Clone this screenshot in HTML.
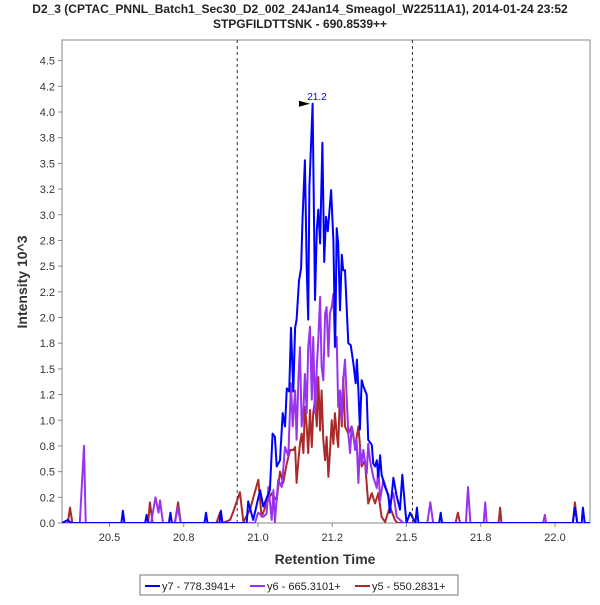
<!DOCTYPE html>
<html><head><meta charset="utf-8"><style>
body{margin:0;background:#fff;font-family:"Liberation Sans",sans-serif}
svg text{font-family:"Liberation Sans",sans-serif}
</style></head><body>
<svg id="chart" width="600" height="600" xmlns="http://www.w3.org/2000/svg">
<rect width="600" height="600" fill="#fff"/>
<text x="300" y="13" text-anchor="middle" font-size="12" font-weight="bold" fill="#222">D2_3 (CPTAC_PNNL_Batch1_Sec30_D2_002_24Jan14_Smeagol_W22511A1), 2014-01-24 23:52</text>
<text x="300" y="28" text-anchor="middle" font-size="12" font-weight="bold" fill="#222">STPGFILDTTSNK - 690.8539++</text>
<rect x="62" y="40" width="528" height="483" fill="#fff" stroke="#888"/>
<g id="yticks"></g><g id="xticks"></g>
<g id="series" clip-path="url(#clip)"></g>
<defs><clipPath id="clip"><rect x="62" y="40" width="528" height="483"/></clipPath></defs>
<text transform="translate(27,282) rotate(-90)" text-anchor="middle" font-size="14" font-weight="bold" fill="#333">Intensity 10^3</text>
<text x="325" y="564" text-anchor="middle" font-size="14" font-weight="bold" fill="#333">Retention Time</text>
<g>
<rect x="140" y="575" width="318" height="20" fill="#fff" stroke="#777"/>
<line x1="145" y1="586" x2="160" y2="586" stroke="#0000ff" stroke-width="2"/>
<text x="162" y="590" font-size="11" fill="#222">y7 - 778.3941+</text>
<line x1="250" y1="586" x2="265" y2="586" stroke="#9933ee" stroke-width="2"/>
<text x="267" y="590" font-size="11" fill="#222">y6 - 665.3101+</text>
<line x1="355" y1="586" x2="370" y2="586" stroke="#aa2a2a" stroke-width="2"/>
<text x="372" y="590" font-size="11" fill="#222">y5 - 550.2831+</text>
</g>
</svg>
<script>
const yTickVals=[0,0.25,0.5,0.75,1.0,1.25,1.5,1.75,2.0,2.25,2.5,2.75,3.0,3.25,3.5,3.75,4.0,4.25,4.5];
const yTickLabels=["0.0","0.2","0.5","0.8","1.0","1.2","1.5","1.8","2.0","2.2","2.5","2.8","3.0","3.2","3.5","3.8","4.0","4.2","4.5"];
const xTickVals=[20.5,20.75,21.0,21.25,21.5,21.75,22.0];
const xTickLabels=["20.5","20.8","21.0","21.2","21.5","21.8","22.0"];
const markers=[20.93,21.52];
const peakTime=21.185, peakValue=4.08, peakLabel="21.2";
const y7T=[20.34,20.36,20.37,20.38,20.54,20.545,20.55,20.62,20.625,20.63,20.70,20.705,20.71,20.82,20.825,20.83,20.87,20.875,20.88,20.906,20.962,20.967,20.984,21.007,21.018,21.029,21.040,21.049,21.057,21.063,21.074,21.083,21.091,21.097,21.105,21.111,21.119,21.125,21.130,21.138,21.145,21.150,21.158,21.164,21.169,21.173,21.184,21.192,21.198,21.203,21.209,21.217,21.223,21.229,21.235,21.240,21.246,21.254,21.260,21.265,21.270,21.276,21.282,21.287,21.293,21.299,21.304,21.312,21.321,21.329,21.333,21.338,21.343,21.349,21.355,21.366,21.371,21.383,21.388,21.394,21.400,21.405,21.411,21.416,21.428,21.439,21.444,21.456,21.467,21.478,21.486,21.495,21.500,21.512,21.53,21.535,21.54,21.61,21.615,21.62,22.06,22.067,22.075,22.09,22.094,22.1,22.12];
const y7V=[0,0.03,0,0,0,0.12,0,0,0.08,0,0,0.1,0,0,0.1,0,0,0.12,0,0,0,0.21,0.03,0.32,0.16,0.24,0.32,0.87,0.84,0.55,0.61,1.07,0.94,1.31,1.28,1.90,1.28,1.90,1.98,2.36,2.48,2.95,3.53,2.49,1.98,3.27,4.08,2.17,2.85,3.05,2.72,3.70,2.54,2.98,2.84,3.02,3.24,2.75,1.72,2.87,2.72,2.07,2.61,2.46,2.46,2.07,1.75,1.73,1.56,1.36,1.59,1.29,0.91,1.39,1.33,1.25,0.81,0.76,0.58,0.55,0.61,0.45,0.66,0.47,0.35,0.27,0.10,0.44,0.26,0.13,0.47,0.16,0,0.1,0,0.15,0,0,0.1,0,0,0.15,0,0,0.15,0,0];
const y6T=[20.34,20.40,20.414,20.42,20.64,20.655,20.665,20.67,20.68,20.72,20.73,20.74,20.99,21.0,21.018,21.029,21.035,21.046,21.052,21.057,21.068,21.080,21.091,21.102,21.111,21.117,21.125,21.130,21.136,21.141,21.147,21.153,21.158,21.164,21.169,21.175,21.181,21.186,21.192,21.198,21.203,21.209,21.214,21.220,21.226,21.231,21.237,21.242,21.248,21.254,21.259,21.265,21.270,21.276,21.282,21.287,21.293,21.299,21.304,21.310,21.315,21.321,21.327,21.332,21.338,21.343,21.349,21.355,21.366,21.371,21.377,21.388,21.400,21.405,21.411,21.422,21.433,21.444,21.456,21.467,21.478,21.49,21.57,21.58,21.59,21.70,21.707,21.715,21.76,21.765,21.77,21.96,21.966,21.97,22.12];
const y6V=[0,0,0.75,0,0,0.25,0.1,0.22,0,0,0.15,0,0,0.1,0.06,0.09,0.35,0.03,0.32,0.01,0.42,0.35,0.74,0.65,1.36,0.94,1.29,0.81,1.39,1.71,0.94,1.10,1.45,1.07,1.71,1.91,1.20,1.81,1.07,1.52,1.78,2.20,1.52,1.39,2.04,2.10,1.62,2.04,2.10,2.23,1.71,1.81,1.13,1.29,1.00,1.39,1.59,1.20,0.87,0.68,0.94,0.87,0.71,0.81,0.39,0.74,0.58,0.71,0.48,0.77,0.61,0.45,0.34,0.55,0.22,0.42,0.32,0.19,0.29,0.06,0.03,0,0,0.2,0,0,0.35,0,0,0.2,0,0,0.08,0,0];
const y5T=[20.34,20.36,20.367,20.375,20.63,20.636,20.645,20.72,20.731,20.74,20.86,20.872,20.88,20.906,20.917,20.939,20.951,20.973,21.001,21.012,21.029,21.046,21.063,21.074,21.085,21.097,21.108,21.119,21.125,21.130,21.136,21.141,21.147,21.153,21.158,21.164,21.169,21.175,21.181,21.186,21.192,21.198,21.203,21.209,21.214,21.220,21.226,21.231,21.237,21.242,21.248,21.254,21.259,21.265,21.270,21.276,21.282,21.287,21.293,21.304,21.315,21.327,21.338,21.349,21.360,21.371,21.383,21.394,21.405,21.416,21.428,21.444,21.461,21.47,21.665,21.673,21.68,21.81,21.815,21.82,22.06,22.067,22.075,22.12];
const y5V=[0,0,0.15,0,0,0.2,0,0,0.2,0,0,0.1,0,0.03,0.11,0.30,0.01,0.13,0.42,0.06,0.19,0.29,0.22,0.50,0.39,0.58,0.71,0.71,0.74,0.39,0.61,0.77,0.87,0.68,1.13,0.94,0.68,1.10,0.74,1.07,1.20,0.94,1.42,0.90,1.29,0.81,0.61,0.84,0.45,0.68,1.00,0.77,1.07,0.87,0.74,1.29,0.94,1.42,0.94,0.87,0.94,0.74,0.94,0.55,0.61,0.19,0.29,0.19,0.29,0.06,0.01,0.16,0.03,0,0,0.1,0,0,0.15,0,0,0.2,0,0];

const NS="http://www.w3.org/2000/svg";
const xS=t=>258+(t-21)*297;
const yS=v=>523-v*102.75;
function mk(tag,attrs,parent){const e=document.createElementNS(NS,tag);for(const k in attrs)e.setAttribute(k,attrs[k]);parent.appendChild(e);return e;}
const svg=document.getElementById('chart');
const yg=document.getElementById('yticks');
yTickVals.forEach((v,i)=>{
  const l=mk('line',{x1:58,x2:62,y1:yS(v),y2:yS(v),stroke:'#888'},yg);
  
  
  const t=mk('text',{x:55,y:yS(v)+4,'text-anchor':'end','font-size':11,fill:'#333'},yg);
  t.textContent=yTickLabels[i];
  
  
});
const xg=document.getElementById('xticks');
xTickVals.forEach((v,i)=>{
  const l=mk('line',{x1:xS(v),x2:xS(v),y1:523,y2:527,stroke:'#888'},xg);
  
  
  const t=mk('text',{x:xS(v),y:541,'text-anchor':'middle','font-size':11,fill:'#333'},xg);
  t.textContent=xTickLabels[i];
  
  
});
markers.forEach(m=>{
  const l=mk('line',{x1:xS(m),x2:xS(m),y1:40,y2:523,stroke:'#333','stroke-dasharray':'3,3'},svg);
  
  
});
const sg=document.getElementById('series');
const series=[[y5T,y5V,'#aa2a2a','series-y5'],[y6T,y6V,'#9933ee','series-y6'],[y7T,y7V,'#0000ff','series-y7']];
series.forEach(s=>{
  const pts=s[0].map((t,i)=>xS(t).toFixed(1)+','+yS(s[1][i]).toFixed(1)).join(' ');
  const p=mk('polyline',{points:pts,fill:'none',stroke:s[2],'stroke-width':2,'stroke-linejoin':'round'},sg);
  
  
});
const px=xS(peakTime), py=yS(peakValue);
const tri=mk('polygon',{points:`${px-14},${py-3} ${px-3},${py} ${px-14},${py+3}`,fill:'#000'},svg);


const pl=mk('text',{x:px+4,y:py-4,'text-anchor':'middle','font-size':10,fill:'#0000ff'},svg);
pl.textContent=peakLabel;


</script>
</body></html>
